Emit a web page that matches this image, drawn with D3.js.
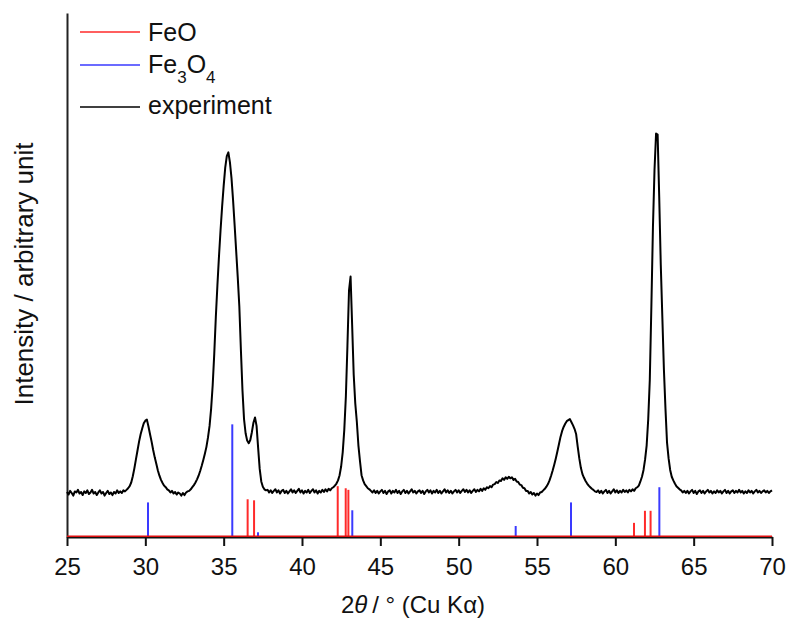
<!DOCTYPE html>
<html>
<head>
<meta charset="utf-8">
<script src="https://cdn.jsdelivr.net/npm/d3@7/dist/d3.min.js"></script>
<style>
  html, body { margin: 0; padding: 0; background: #fff; }
  svg { display: block; font-family: "Liberation Sans", Arial, sans-serif; }
</style>
</head>
<body>
<svg id="chart" width="790" height="621"></svg>
<script>
// XRD pattern: measured intensity vs 2θ (Cu Kα), with reference stick patterns

const xTicks = [25, 30, 35, 40, 45, 50, 55, 60, 65, 70];

// Measured pattern, sampled every 0.1° from 25.0° to 70.0°
const expStart = 25.0;
const expStep = 0.1;
const expIntensity = [
  86, 81, 88, 84, 79, 87, 85, 90, 83, 86,          // 25
  80, 87, 84, 89, 82, 85, 90, 83, 86, 80,          // 26
  85, 89, 83, 86, 79, 84, 88, 82, 85, 80,          // 27
  86, 83, 89, 84, 87, 84, 89, 87, 90, 93,          // 28
  97, 104, 116, 131, 148, 165, 182, 196, 207, 217, // 29
  222, 224, 211, 196, 182, 166, 152, 140, 127, 117,// 30
  109, 103, 98, 95, 91, 89, 85, 88, 83, 86,        // 31
  81, 85, 83, 79, 84, 80, 85, 87, 88, 91,          // 32
  95, 99, 104, 110, 117, 126, 136, 147, 159, 172,  // 33
  190, 212, 245, 290, 350, 420, 480, 535, 585, 630,// 34
  670, 705, 727, 734, 715, 685, 643, 595, 545, 495,// 35
  440, 357, 280, 225, 198, 184, 179, 185, 200, 218,// 36
  228, 212, 170, 130, 106, 96, 91, 89, 90, 85,     // 37
  89, 84, 88, 91, 85, 89, 83, 88, 90, 84,          // 38
  88, 83, 87, 91, 85, 89, 84, 88, 92, 85,          // 39
  89, 83, 88, 85, 90, 84, 88, 91, 85, 89,          // 40
  83, 88, 85, 90, 86, 91, 87, 92, 89, 93,          // 41
  95, 98, 102, 108, 118, 135, 162, 205, 268, 365,  // 42
  470, 497, 405, 310, 255, 220, 175, 145, 118, 108,// 43
  101, 97, 93, 91, 88, 85, 89, 84, 88, 83,         // 44
  87, 90, 84, 88, 82, 87, 89, 83, 88, 85,          // 45
  90, 84, 88, 82, 87, 90, 84, 88, 83, 87,          // 46
  91, 85, 88, 83, 87, 89, 84, 88, 82, 87,          // 47
  90, 85, 89, 83, 88, 85, 90, 84, 88, 83,          // 48
  87, 91, 85, 89, 84, 88, 83, 87, 90, 85,          // 49
  89, 84, 88, 91, 86, 90, 85, 89, 84, 88,          // 50
  91, 86, 90, 87, 92, 88, 93, 90, 95, 93,          // 51
  97, 95, 100, 101, 105, 103, 108, 107, 112, 109,  // 52
  114, 111, 115, 112, 114, 109, 111, 106, 105, 100,// 53
  99, 94, 93, 88, 88, 83, 86, 81, 84, 79,          // 54
  83, 80, 85, 86, 89, 92, 96, 101, 108, 117,       // 55
  127, 138, 150, 163, 177, 191, 202, 210, 216, 221,// 56
  223, 225, 219, 213, 206, 196, 172, 150, 132, 120,// 57
  113, 107, 102, 98, 95, 92, 90, 87, 86, 89,       // 58
  84, 88, 83, 87, 90, 84, 88, 83, 87, 91,          // 59
  85, 89, 84, 88, 85, 90, 86, 89, 85, 90,          // 60
  87, 91, 88, 93, 95, 98, 106, 115, 128, 148,      // 61
  175, 225, 300, 440, 590, 700, 770, 768, 650, 520,// 62
  420, 320, 245, 180, 150, 128, 115, 108, 102, 97, // 63
  94, 91, 89, 85, 88, 84, 88, 83, 87, 90,          // 64
  84, 88, 82, 87, 89, 84, 88, 83, 87, 90,          // 65
  85, 88, 83, 87, 84, 89, 85, 88, 83, 87,          // 66
  90, 84, 88, 83, 87, 89, 84, 88, 85, 90,          // 67
  85, 88, 83, 87, 84, 89, 85, 88, 83, 87,          // 68
  90, 85, 88, 84, 87, 89, 85, 88, 84, 87,          // 69
  89                                               // 70
];

// Reference reflections (stick patterns)
const feoTheta = [36.53, 36.94, 42.28, 42.79, 42.96, 61.19, 61.89, 62.25];
const feoIntensity = [72, 70, 97, 93, 90, 27, 50, 50];
const fe3o4Theta = [30.17, 35.55, 37.19, 43.21, 53.64, 57.17, 62.81, 66.04];
const fe3o4Intensity = [66, 215, 9, 51, 21, 66, 95, 2];

const legendItems = [
  { key: "FeO", color: "#ff2a2a" },
  { key: "Fe3O4", color: "#3a3aff" },
  { key: "experiment", color: "#000000" }
];

const svg = d3.select("#chart");

const x = d3.scaleLinear().domain([25, 70]).range([67, 772]);
const y = d3.scaleLinear().domain([0, 1000]).range([537, 13]);

const expData = expIntensity.map((v, i) => ({ t: expStart + i * expStep, v }));
const feoData = feoTheta.map((t, i) => ({ t, v: feoIntensity[i] }));
const fe3o4Data = fe3o4Theta.map((t, i) => ({ t, v: fe3o4Intensity[i] }));

// Left axis: a plain line, no ticks
const yAxis = svg.append("g")
  .attr("transform", `translate(${x(25)},0)`)
  .call(d3.axisLeft(y).ticks(0).tickSizeOuter(0));
yAxis.select(".domain").attr("stroke", "#222").attr("stroke-width", 2);

// Bottom axis
const xAxis = svg.append("g")
  .attr("transform", `translate(0,${y(0)})`)
  .call(d3.axisBottom(x).tickValues(xTicks).tickSize(9).tickSizeOuter(0));
xAxis.select(".domain").attr("stroke", "#111").attr("stroke-width", 2.2);
xAxis.selectAll(".tick line").attr("stroke", "#111").attr("stroke-width", 2);
xAxis.selectAll(".tick text")
  .attr("y", 38).attr("dy", 0)
  .attr("font-size", 24)
  .attr("fill", "#111")
  .style("font-family", "'Liberation Sans', Arial, sans-serif");

// Stick patterns
function drawSticks(data, color) {
  svg.append("g").selectAll("line").data(data).join("line")
    .attr("x1", d => x(d.t)).attr("x2", d => x(d.t))
    .attr("y1", y(0)).attr("y2", d => y(d.v))
    .attr("stroke", color).attr("stroke-width", 2);
}
drawSticks(fe3o4Data, "#3a3aff");
drawSticks(feoData, "#ff2a2a");

// Zero line of the reference patterns
svg.append("line")
  .attr("x1", x(25)).attr("x2", x(70))
  .attr("y1", y(0) - 0.8).attr("y2", y(0) - 0.8)
  .attr("stroke", "#e01010").attr("stroke-width", 1.6);

// Measured pattern
const line = d3.line().x(d => x(d.t)).y(d => y(d.v));
svg.append("path")
  .datum(expData)
  .attr("d", line)
  .attr("fill", "none")
  .attr("stroke", "#000")
  .attr("stroke-width", 2)
  .attr("stroke-linejoin", "round");

// Axis titles
const xTitle = svg.append("text")
  .attr("x", 413).attr("y", 613)
  .attr("text-anchor", "middle")
  .attr("font-size", 24)
  .attr("fill", "#111");
xTitle.append("tspan").text("2");
xTitle.append("tspan").attr("font-style", "italic").text("θ");
xTitle.append("tspan").text("\u2009/ ° (Cu Kα)");

svg.append("text")
  .attr("transform", "translate(33,274) rotate(-90)")
  .attr("text-anchor", "middle")
  .attr("font-size", 26)
  .attr("fill", "#111")
  .text("Intensity / arbitrary unit");

// Legend
const legendRows = [
  { lineY: 32, textY: 41 },
  { lineY: 65, textY: 73 },
  { lineY: 107, textY: 114 }
];
const legend = svg.append("g");
legendItems.forEach((item, i) => {
  const row = legendRows[i];
  legend.append("line")
    .attr("x1", 80).attr("x2", 140)
    .attr("y1", row.lineY).attr("y2", row.lineY)
    .attr("stroke", item.color).attr("stroke-width", 1.6);
  const t = legend.append("text")
    .attr("x", 148).attr("y", row.textY)
    .attr("font-size", 25)
    .attr("fill", "#111");
  if (item.key === "Fe3O4") {
    t.append("tspan").text("Fe");
    t.append("tspan").attr("font-size", 17).attr("dy", 10).text("3");
    t.append("tspan").attr("dy", -10).text("O");
    t.append("tspan").attr("font-size", 17).attr("dy", 10).text("4");
  } else {
    t.text(item.key);
  }
});
</script>
</body>
</html>
